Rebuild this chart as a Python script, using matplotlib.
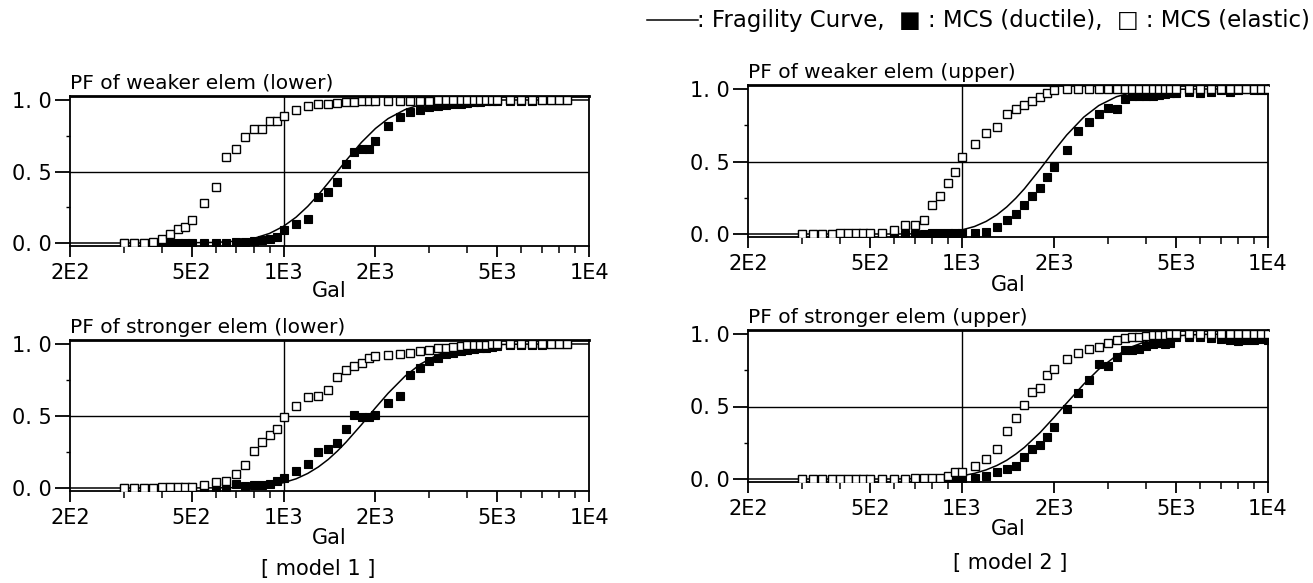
import matplotlib
matplotlib.use("Agg")
import matplotlib.pyplot as plt
from matplotlib.lines import Line2D
from matplotlib.ticker import FixedLocator, FixedFormatter, NullFormatter

plt.rcParams['font.family'] = ['DejaVu Sans']

W, H = 1313, 583

# ---------------- data ----------------
gal_left = [300, 325, 350, 375, 400, 425, 450, 475, 500,
            550, 600, 650, 700, 750, 800, 850, 900, 950, 1000,
            1100, 1200, 1300, 1400, 1500, 1600, 1700, 1800, 1900, 2000,
            2200, 2400, 2600, 2800, 3000, 3200, 3400, 3600, 3800, 4000, 4200, 4400, 4600, 4800, 5000,
            5500, 6000, 6500, 7000, 7500, 8000, 8500]
gal_right = [300, 325, 350, 375, 400, 425, 450, 475, 500,
             550, 600, 650, 700, 750, 800, 850, 900, 950, 1000,
             1100, 1200, 1300, 1400, 1500, 1600, 1700, 1800, 1900, 2000,
             2200, 2400, 2600, 2800, 3000, 3200, 3400, 3600, 3800, 4000, 4200, 4400, 4600, 4800, 5000,
             5500, 6000, 6500, 7000, 7500, 8000, 8500, 9000, 9500, 10000]

curve_gal = [200, 400, 600, 700, 800, 900, 1000, 1100, 1200, 1300, 1400, 1500, 1600,
             1800, 2000, 2200, 2500, 2800, 3200, 3600, 4000, 5000, 6000, 8000, 10000]

# model 1, weaker element
m1_weak_curve = [0.0, 0.0, 0.004, 0.013, 0.032, 0.067, 0.117, 0.181, 0.256, 0.337, 0.420, 0.500, 0.575,
                 0.704, 0.801, 0.870, 0.933, 0.967, 0.987, 0.995, 0.998, 1.0, 1.0, 1.0, 1.0]
m1_weak_ductile = [0.0, 0.0, 0.0, 0.0, 0.0, 0.0, 0.0, 0.0, 0.0,
                   0.0, 0.0, 0.0, 0.005, 0.01, 0.015, 0.02, 0.03, 0.045, 0.09,
                   0.135, 0.17, 0.325, 0.36, 0.43, 0.55, 0.635, 0.66, 0.66, 0.71,
                   0.82, 0.88, 0.915, 0.93, 0.95, 0.96, 0.965, 0.97, 0.975, 0.98, 0.985, 0.985, 0.99, 0.99, 0.99,
                   0.99, 0.995, 0.995, 1.0, 1.0, 1.0, 1.0]
m1_weak_elastic = [0.0, 0.0, 0.0, 0.005, 0.03, 0.065, 0.10, 0.115, 0.16,
                   0.28, 0.395, 0.60, 0.66, 0.74, 0.80, 0.80, 0.855, 0.855, 0.89,
                   0.93, 0.955, 0.97, 0.975, 0.98, 0.985, 0.985, 0.99, 0.99, 0.99,
                   0.99, 0.99, 0.995, 0.995, 0.995, 1.0, 1.0, 1.0, 1.0, 1.0, 1.0, 1.0, 1.0, 1.0, 1.0,
                   1.0, 1.0, 1.0, 1.0, 1.0, 1.0, 1.0]

# model 1, stronger element
m1_strong_curve = [0.0, 0.0, 0.001, 0.003, 0.008, 0.019, 0.037, 0.064, 0.101, 0.146, 0.198, 0.256, 0.317,
                   0.440, 0.557, 0.658, 0.777, 0.859, 0.926, 0.962, 0.981, 0.996, 0.999, 1.0, 1.0]
m1_strong_ductile = [0.0, 0.0, 0.0, 0.0, 0.0, 0.005, 0.005, 0.005, 0.01,
                     0.01, 0.01, 0.01, 0.03, 0.015, 0.02, 0.02, 0.03, 0.05, 0.07,
                     0.115, 0.165, 0.25, 0.27, 0.31, 0.41, 0.51, 0.49, 0.49, 0.51,
                     0.59, 0.64, 0.785, 0.83, 0.88, 0.90, 0.93, 0.94, 0.95, 0.96, 0.965, 0.97, 0.975, 0.98, 0.985,
                     0.99, 0.99, 0.995, 0.995, 1.0, 1.0, 1.0]
m1_strong_elastic = [0.0, 0.0, 0.0, 0.0, 0.005, 0.005, 0.005, 0.01, 0.01,
                     0.02, 0.04, 0.05, 0.10, 0.16, 0.26, 0.32, 0.37, 0.41, 0.49,
                     0.57, 0.63, 0.64, 0.68, 0.77, 0.82, 0.85, 0.87, 0.90, 0.92,
                     0.925, 0.93, 0.94, 0.95, 0.96, 0.97, 0.975, 0.98, 0.985, 0.99, 0.99, 0.995, 0.995, 1.0, 1.0,
                     1.0, 1.0, 1.0, 1.0, 1.0, 1.0, 1.0]

# model 2, weaker element
m2_weak_curve = [0.0, 0.0, 0.0, 0.001, 0.005, 0.013, 0.028, 0.052, 0.087, 0.132, 0.186, 0.247, 0.312,
                 0.447, 0.574, 0.683, 0.806, 0.886, 0.947, 0.976, 0.989, 0.998, 1.0, 1.0, 1.0]
m2_weak_ductile = [0.0, 0.0, 0.0, 0.0, 0.0, 0.0, 0.0, 0.0, 0.0,
                   0.0, 0.0, 0.0, 0.0, 0.0, 0.005, 0.005, 0.005, 0.005, 0.005,
                   0.01, 0.015, 0.045, 0.10, 0.14, 0.20, 0.26, 0.32, 0.39, 0.46,
                   0.58, 0.71, 0.77, 0.83, 0.87, 0.86, 0.93, 0.955, 0.955, 0.95, 0.955, 0.96, 0.965, 0.97, 0.97,
                   0.98, 0.97, 0.98, 0.99, 0.98, 0.99, 1.0, 0.99, 0.99, 0.99]
m2_weak_elastic = [0.0, 0.0, 0.0, 0.0, 0.005, 0.005, 0.005, 0.005, 0.01,
                   0.01, 0.03, 0.06, 0.06, 0.10, 0.20, 0.26, 0.355, 0.43, 0.53,
                   0.62, 0.70, 0.74, 0.83, 0.86, 0.89, 0.915, 0.945, 0.97, 0.99,
                   1.0, 1.0, 1.0, 1.0, 1.0, 1.0, 1.0, 1.0, 1.0, 1.0, 1.0, 1.0, 1.0, 1.0, 1.0,
                   1.0, 1.0, 1.0, 1.0, 1.0, 1.0, 1.0, 1.0, 1.0, 1.0]

# model 2, stronger element
m2_strong_curve = [0.0, 0.0, 0.0, 0.002, 0.005, 0.011, 0.022, 0.039, 0.063, 0.093, 0.129, 0.172, 0.218,
                   0.320, 0.425, 0.524, 0.654, 0.757, 0.852, 0.913, 0.949, 0.987, 0.997, 1.0, 1.0]
m2_strong_ductile = [0.0, 0.0, 0.0, 0.0, 0.0, 0.0, 0.0, 0.0, 0.0,
                     0.0, 0.0, 0.0, 0.0, 0.0, 0.0, 0.0, 0.005, 0.005, 0.005,
                     0.005, 0.02, 0.045, 0.07, 0.09, 0.155, 0.21, 0.235, 0.29, 0.36,
                     0.48, 0.59, 0.68, 0.79, 0.78, 0.84, 0.89, 0.89, 0.90, 0.92, 0.93, 0.935, 0.93, 0.94, 0.98,
                     0.98, 0.98, 0.97, 0.965, 0.96, 0.95, 0.96, 0.96, 0.965, 0.96]
m2_strong_elastic = [0.0, 0.0, 0.0, 0.0, 0.0, 0.0, 0.0, 0.0, 0.0,
                     0.0, 0.0, 0.0, 0.005, 0.005, 0.005, 0.01, 0.02, 0.045, 0.05,
                     0.09, 0.14, 0.21, 0.33, 0.42, 0.51, 0.60, 0.63, 0.72, 0.76,
                     0.83, 0.87, 0.895, 0.91, 0.94, 0.96, 0.97, 0.98, 0.98, 0.985, 0.99, 0.99, 0.995, 1.0, 1.0,
                     1.0, 1.0, 1.0, 1.0, 1.0, 1.0, 1.0, 1.0, 1.0, 1.0]

major_ticks = [200, 500, 1000, 2000, 5000, 10000]
major_labels = ["2E2", "5E2", "1E3", "2E3", "5E3", "1E4"]
minor_ticks = [300, 400, 600, 700, 800, 900, 3000, 4000, 6000, 7000, 8000, 9000]
y_ticks = [0.0, 0.5, 1.0]
y_labels = ["0. 0", "0. 5", "1. 0"]
titles = ["PF of weaker elem (lower)", "PF of stronger elem (lower)",
          "PF of weaker elem (upper)", "PF of stronger elem (upper)"]
model_labels = ["[ model 1 ]", "[ model 2 ]"]

# ---------------- figure ----------------
fig = plt.figure(figsize=(W / 100, H / 100), dpi=100)

def rect(l, r, top, bottom):
    return [l / W, 1 - bottom / H, (r - l) / W, (bottom - top) / H]

YLO, YHI = -0.02, 1.03
boxes = [
    # (left px, right px, pixel of y=0, px per unit, Gal label y px)
    (70, 589, 243, 143, 291),
    (70, 589, 488, 144, 538),
    (748, 1268, 234, 145, 285),
    (748, 1268, 479, 145, 529),
]
panels = [
    (gal_left, m1_weak_curve, m1_weak_ductile, m1_weak_elastic),
    (gal_left, m1_strong_curve, m1_strong_ductile, m1_strong_elastic),
    (gal_right, m2_weak_curve, m2_weak_ductile, m2_weak_elastic),
    (gal_right, m2_strong_curve, m2_strong_ductile, m2_strong_elastic),
]

for (l, r, y0, sc, gy), (gx, cv, du, el), ttl in zip(boxes, panels, titles):
    top = y0 - YHI * sc
    bot = y0 - YLO * sc
    ax = fig.add_axes(rect(l, r, top, bot))
    ax.set_xscale('log')
    ax.set_xlim(200, 10000)
    ax.set_ylim(YLO, YHI)
    ax.axhline(0.5, color='black', lw=1.0, zorder=1)
    ax.axvline(1000, color='black', lw=1.0, zorder=1)
    ax.plot(curve_gal, cv, color='black', lw=1.1, zorder=2)
    ax.plot(gx, du, linestyle='none', marker='s', markersize=5.5,
            markerfacecolor='black', markeredgecolor='black', markeredgewidth=0.8, zorder=3)
    ax.plot(gx, el, linestyle='none', marker='s', markersize=5.5,
            markerfacecolor='white', markeredgecolor='black', markeredgewidth=1.0, zorder=4)

    ax.xaxis.set_major_locator(FixedLocator(major_ticks))
    ax.xaxis.set_major_formatter(FixedFormatter(major_labels))
    ax.xaxis.set_minor_locator(FixedLocator(minor_ticks))
    ax.xaxis.set_minor_formatter(NullFormatter())
    ax.yaxis.set_major_locator(FixedLocator(y_ticks))
    ax.yaxis.set_major_formatter(FixedFormatter(y_labels))
    ax.yaxis.set_minor_locator(FixedLocator([0.25, 0.75]))
    ax.tick_params(axis='x', which='major', direction='out', length=8, width=1.3,
                   labelsize=15, pad=4)
    ax.tick_params(axis='x', which='minor', direction='out', length=5, width=1.1)
    ax.tick_params(axis='y', which='major', direction='out', length=11, width=1.3,
                   labelsize=15, pad=2)
    ax.tick_params(axis='y', which='minor', direction='out', length=3, width=1.0)
    for s in ('left', 'right', 'bottom'):
        ax.spines[s].set_linewidth(1.3)
    ax.spines['top'].set_linewidth(2.0)
    ax.set_title(ttl, loc='left', fontsize=14.5, pad=5)
    fig.text((l + r) / 2 / W, 1 - gy / H, 'Gal', ha='center', va='center', fontsize=15)

fig.text(318 / W, 1 - 569 / H, model_labels[0], ha='center', va='center', fontsize=15)
fig.text(1010 / W, 1 - 563 / H, model_labels[1], ha='center', va='center', fontsize=15)

# legend line at top (text right-aligned, line drawn just left of it)
ly = 1 - 20 / H
leg = fig.text(1310 / W, ly, ': Fragility Curve,  \u25a0 : MCS (ductile),  \u25a1 : MCS (elastic)',
               ha='right', va='center', fontsize=16.5)
fig.canvas.draw()
bb = leg.get_window_extent(renderer=fig.canvas.get_renderer())
x_start = bb.x0 / W
fig.add_artist(Line2D([x_start - 50 / W, x_start + 1 / W], [ly, ly], color='black', lw=1.1))

fig.savefig('out.png', dpi=100)
